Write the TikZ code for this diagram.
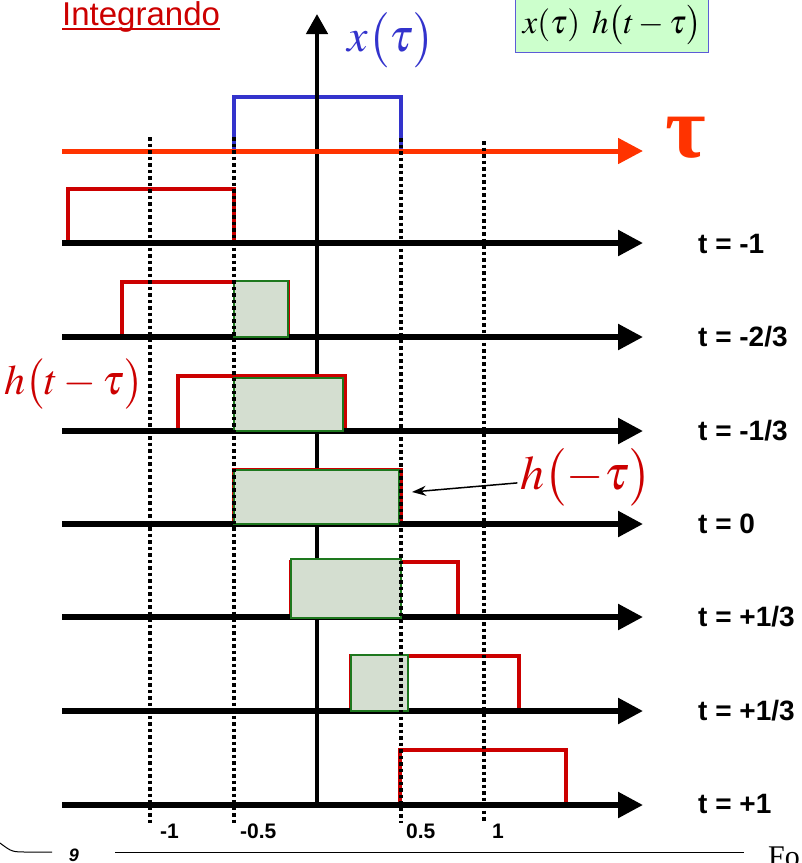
\documentclass[tikz,border=0pt]{standalone}
\usepackage{mathptmx}
\usepackage{fontspec}
\setmainfont{Liberation Serif}
\setsansfont{Liberation Sans}
\usetikzlibrary{arrows.meta}
\definecolor{rojo}{RGB}{204,0,0}
\definecolor{azul}{RGB}{51,51,204}
\definecolor{naranja}{RGB}{255,51,0}
\definecolor{verdef}{RGB}{212,222,208}
\definecolor{verdeb}{RGB}{30,120,30}
\definecolor{verdec}{RGB}{204,255,204}
\tikzstyle{eje}=[line width=5.5pt,-{Triangle[length=25pt,width=25pt]}]
\tikzstyle{hrect}=[draw=rojo,line width=4pt]
\tikzstyle{prod}=[draw=verdeb,fill=verdef,line width=1.5pt]
\tikzstyle{guia}=[line width=3.5pt,dash pattern=on 3.5pt off 3pt]
\tikzstyle{tlab}=[anchor=west,inner sep=0pt,font=\sffamily\bfseries\fontsize{28}{28}\selectfont]
\tikzstyle{tick}=[anchor=west,inner sep=0pt,font=\sffamily\bfseries\fontsize{21}{21}\selectfont]

\begin{document}
\begin{tikzpicture}[x=1pt,y=-1pt]
\useasboundingbox (0,0) rectangle (802,863);
\node[rojo,anchor=base west,inner sep=0pt,font=\sffamily\fontsize{33}{33}\selectfont] (titulo) at (62,25) {Integrando};
\draw[rojo,line width=2pt] ([yshift=-4pt]titulo.base west) -- ([yshift=-4pt]titulo.base east);
\draw[draw=azul!80,fill=verdec,line width=1pt] (515,-6) rectangle (708,52);
\node[inner sep=0pt,font=\fontsize{33}{33}\selectfont] (prod) at (612,25) {$x(\tau)\ \,h\bigl(t-\tau\bigr)$};
% x(tau)
\draw[azul,line width=4pt] (234,151) rectangle (401,97);
\draw[line width=4.5pt,-{Triangle[length=20pt,width=21pt]}] (317,805) -- (317,14);
\draw[naranja,line width=5pt,-{Triangle[length=25pt,width=25pt]}] (62,151) -- (643,151);
\node[azul,inner sep=0pt,font=\fontsize{46}{46}\selectfont] (xt) at (391,40) {$x\bigl(\tau\bigr)$};
\node[naranja,font=\bfseries\fontsize{88}{88}\selectfont] (tau) at (686,138) {τ};
% h(t-tau)
\draw[hrect] (68,243) rectangle (234,189);
\draw[hrect] (122,337) rectangle (288,282);
\draw[hrect] (178,431) rectangle (345,376);
\draw[hrect] (234,524) rectangle (401,470);
\draw[hrect] (291,617) rectangle (458,562);
\draw[hrect] (351,711) rectangle (519,656);
\draw[hrect] (400,805) rectangle (566,750);
\draw[eje] (62,243) -- (643,243);\draw[eje] (62,337) -- (643,337);\draw[eje] (62,431) -- (643,431);
\draw[eje] (62,524) -- (643,524);\draw[eje] (62,617) -- (643,617);\draw[eje] (62,711) -- (643,711);
\draw[eje] (62,805) -- (643,805);
% producto
\draw[prod] (234,337) rectangle (288,281);
\draw[prod] (234,431) rectangle (343,378);
\draw[prod] (234,524) rectangle (399,470);
\draw[prod] (291,618) rectangle (401,559);
\draw[prod] (351,711) rectangle (408,655);
\draw[guia] (150,137) -- (150,823);\draw[guia] (234,137) -- (234,823);
\draw[guia] (401,138) -- (401,823);\draw[guia] (484,141) -- (484,823);
\node[tick] (m1) at (160,831) {-1};
\node[tick] (m05) at (240,831) {-0.5};
\node[tick] (p05) at (406,831) {0.5};
\node[tick] (p1) at (492,831) {1};
\node[tlab] (t1) at (698,244) {t = -1};
\node[tlab] (t2) at (698,337) {t = -2/3};
\node[tlab] (t3) at (698,431) {t = -1/3};
\node[tlab] (t4) at (698,524) {t = 0};
\node[tlab] (t5) at (698,617) {t = +1/3};
\node[tlab] (t6) at (698,711) {t = +1/3};
\node[tlab] (t7) at (698,804) {t = +1};
\node[rojo,font=\fontsize{42}{42}\selectfont] (htau) at (74,384) {$h\bigl(t-\tau\bigr)$};
\node[rojo,font=\fontsize{48}{48}\selectfont] (hmt) at (586,477) {$h\bigl(-\tau\bigr)$};
\coordinate (punta) at (412,492);
\draw[line width=1.5pt,-{Stealth[length=14pt,width=10pt]}] (hmt) -- (punta);
% pie
\draw[line width=1pt] (0,843) .. controls (12,852) .. (28,852) -- (52,852);
\draw[line width=1pt] (115,852) -- (744,852);
\node[font=\sffamily\bfseries\itshape\fontsize{18}{18}\selectfont] (pag) at (74,855) {9};
\node[anchor=base west,inner sep=0pt,font=\fontsize{30}{30}\selectfont] (pie) at (768,866) {Fo};
\end{tikzpicture}
\end{document}
